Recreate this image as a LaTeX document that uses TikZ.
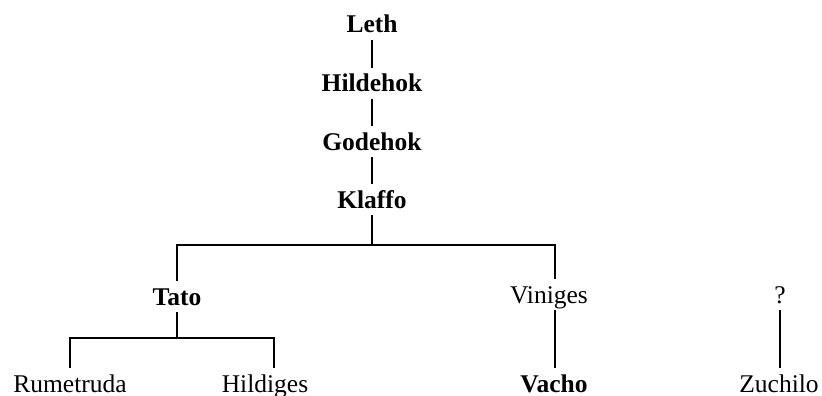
\documentclass[tikz,border=0pt]{standalone}
\usepackage{fontspec}
\setmainfont{Liberation Serif}
\begin{document}
\begin{tikzpicture}[x=1pt,y=-1pt,
  nm/.style={anchor=base,font=\fontsize{25.5}{30}\selectfont,text height=17pt,text depth=0pt,inner xsep=0pt,inner ysep=7pt},
  bnm/.style={nm,font=\fontsize{25.5}{30}\selectfont\bfseries},
  ln/.style={line width=2.4pt}]
\useasboundingbox (0,0) rectangle (822,396);
\node[bnm] (leth) at (372,33) {Leth};
\node[bnm] (hild) at (372,92) {Hildehok};
\node[bnm] (gode) at (372,150) {Godehok};
\node[bnm] (klaf) at (372,208) {Klaffo};
\node[bnm] (tato) at (177,305) {Tato};
\node[nm] (vini) at (549,303) {Viniges};
\node[nm] (q) at (780,303) {?};
\node[nm] (rume) at (70,392) {Rumetruda};
\node[nm] (hilg) at (265,392) {Hildiges};
\node[bnm] (vach) at (554,392) {Vacho};
\node[nm] (zuch) at (779,392) {Zuchilo};
\coordinate (kb) at (372,245);
\coordinate (vt) at (555,245);
\coordinate (tb) at (177,338);
\coordinate (ht) at (274,338);
\draw[ln] (leth.south) -- (hild.north);
\draw[ln] (hild.south) -- (gode.north);
\draw[ln] (gode.south) -- (klaf.north);
\draw[ln] (klaf.south) -- (kb);
\draw[ln] (tato.north) |- (vt) -- (vt |- vini.north);
\draw[ln] (tato.south) -- (tb);
\draw[ln] (rume.north) |- (ht) -- (ht |- hilg.north);
\draw[ln] (vt |- vini.south) -- (vt |- vach.north);
\draw[ln] (q.south) -- (q.south |- zuch.north);
\end{tikzpicture}
\end{document}
